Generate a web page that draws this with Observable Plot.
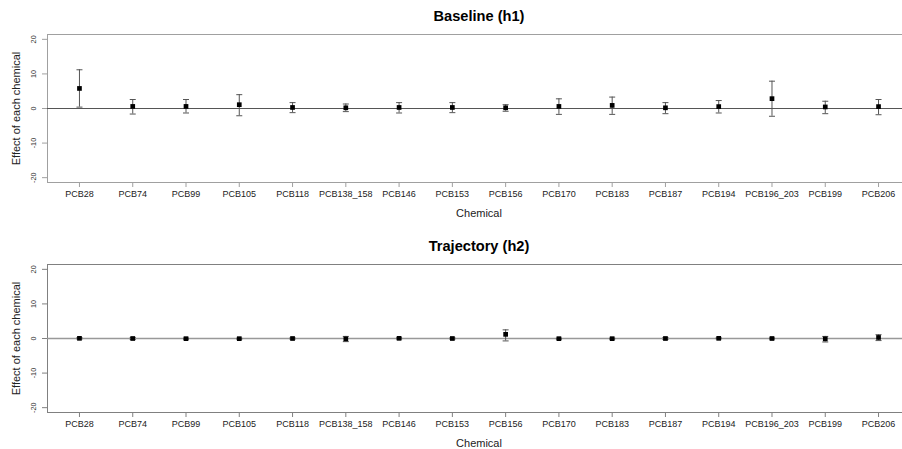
<!DOCTYPE html>
<html>
<head>
<meta charset="utf-8">
<script src="https://cdn.jsdelivr.net/npm/d3@7"></script>
<script src="https://cdn.jsdelivr.net/npm/@observablehq/plot@0.6"></script>
<style>
  html, body { margin: 0; padding: 0; background: #fff; }
  #wrap { width: 902px; height: 449px; overflow: hidden; }
  #wrap svg { display: block; max-width: none !important; }
</style>
</head>
<body>
<div id="wrap"></div>
<script>
const chemicals = ["PCB28","PCB74","PCB99","PCB105","PCB118","PCB138_158","PCB146","PCB153","PCB156","PCB170","PCB183","PCB187","PCB194","PCB196_203","PCB199","PCB206"];

const baselineEst   = [5.8, 0.6, 0.6, 1.1, 0.3, 0.2, 0.3, 0.3, 0.2, 0.6, 0.9, 0.2, 0.55, 2.85, 0.45, 0.55];
const baselineLower = [0.4, -1.6, -1.3, -2.1, -1.2, -0.9, -1.3, -1.2, -0.8, -1.7, -1.7, -1.5, -1.3, -2.25, -1.5, -1.8];
const baselineUpper = [11.2, 2.6, 2.6, 4.0, 1.7, 1.3, 1.7, 1.7, 1.1, 2.8, 3.3, 1.7, 2.3, 7.9, 2.1, 2.6];

const trajEst   = [0.05, 0.0, -0.05, -0.05, 0.0, -0.1, 0.05, 0.0, 1.2, -0.05, -0.05, 0.0, 0.05, 0.0, -0.1, 0.3];
const trajLower = [-0.15, -0.3, -0.2, -0.2, -0.2, -0.9, -0.15, -0.2, -0.7, -0.2, -0.2, -0.3, -0.1, -0.15, -1.0, -0.6];
const trajUpper = [0.25, 0.3, 0.1, 0.1, 0.2, 0.6, 0.2, 0.2, 2.5, 0.1, 0.1, 0.3, 0.2, 0.15, 0.6, 1.1];

const yTicks = [-20, -10, 0, 10, 20];
const titles = ["Baseline (h1)", "Trajectory (h2)"];
const xLabel = "Chemical";
const yLabel = "Effect of each chemical";

const FONT = "'Liberation Sans', Arial, Helvetica, sans-serif";

// horizontal cap symbol for error bars
const capSymbol = {draw(context) { context.moveTo(-3, 0); context.lineTo(3, 0); }};

const positions = chemicals.map((c, i) => i + 1);

function panel(title, est, lower, upper, frameColor, zeroColor, zeroWidth) {
  const data = chemicals.map((c, i) => ({pos: i + 1, est: est[i], lo: lower[i], hi: upper[i]}));
  const svg = Plot.plot({
    width: 910,
    height: 230,
    marginTop: 34,
    marginBottom: 48,
    marginLeft: 47,
    marginRight: 0,
    style: {fontFamily: FONT, background: "#fff", color: "#111", overflow: "visible"},
    x: {type: "linear", domain: [0.4, chemicals.length + 0.6]},
    y: {domain: [-21.4, 21.4]},
    marks: [
      Plot.frame({stroke: frameColor}),
      Plot.ruleY([0], {stroke: zeroColor, strokeWidth: zeroWidth}),
      Plot.axisX(positions, {tickSize: 5, tickPadding: 3, fontSize: 9, label: null, stroke: frameColor, fill: "#222", tickFormat: d => chemicals[d - 1]}),
      Plot.axisY(yTicks, {tickSize: 5, tickFormat: () => "", label: null, stroke: frameColor}),
      Plot.text(yTicks, {y: d => d, text: d => String(d), frameAnchor: "left", dx: -13.5, rotate: -90, fontSize: 7.3, fill: "#333", textAnchor: "middle", lineAnchor: "middle"}),
      Plot.ruleX(data, {x: "pos", y1: "lo", y2: "hi", stroke: "#555", strokeWidth: 1}),
      Plot.dot(data, {x: "pos", y: "lo", symbol: capSymbol, fill: "none", stroke: "#555", strokeWidth: 1}),
      Plot.dot(data, {x: "pos", y: "hi", symbol: capSymbol, fill: "none", stroke: "#555", strokeWidth: 1}),
      Plot.dot(data, {x: "pos", y: "est", symbol: "square", r: 2.65, fill: "#000", stroke: "none"}),
      Plot.text([title], {frameAnchor: "top", dy: -18, fontSize: 14.6, fontWeight: "bold", fill: "#000", lineAnchor: "middle"}),
      Plot.text([xLabel], {frameAnchor: "bottom", dy: 31, fontSize: 11, fill: "#222", lineAnchor: "middle"}),
      Plot.text([yLabel], {frameAnchor: "left", dx: -31, rotate: -90, fontSize: 11, fill: "#222", lineAnchor: "middle", textAnchor: "middle"})
    ]
  });
  svg.style.maxWidth = "none";
  return svg;
}

const wrap = document.getElementById("wrap");
wrap.appendChild(panel(titles[0], baselineEst, baselineLower, baselineUpper, "#a0a0a0", "#555", 1));
wrap.appendChild(panel(titles[1], trajEst, trajLower, trajUpper, "#808080", "#999", 1.5));
</script>
</body>
</html>
